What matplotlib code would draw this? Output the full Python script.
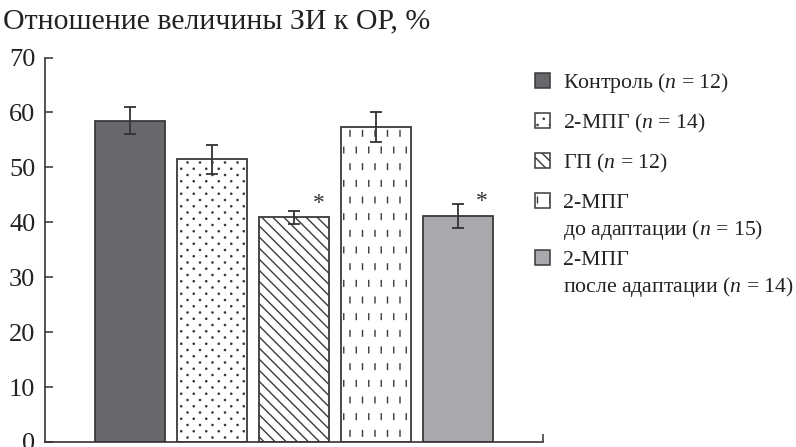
import warnings
import numpy as np
import matplotlib
matplotlib.use('Agg')
import matplotlib.pyplot as plt
import matplotlib.hatch as mhatch
from matplotlib.path import Path
from matplotlib.patches import Rectangle

warnings.filterwarnings('ignore')

# data
groups = ['Контроль', '2-МПГ', 'ГП', '2-МПГ до адаптации', '2-МПГ после адаптации']
n_sizes = [12, 14, 12, 15, 14]
means = [58.5, 51.5, 40.9, 57.4, 41.2]
errors = [2.4, 2.65, 1.2, 2.75, 2.2]
significant = [False, False, True, False, True]
yticks = [0, 10, 20, 30, 40, 50, 60, 70]
title = 'Отношение величины ЗИ к ОР, %'
legend_lines = [
    ['Контроль ($n$ = 12)'],
    ['2-МПГ ($n$ = 14)'],
    ['ГП ($n$ = 12)'],
    ['2-МПГ', 'до адаптации ($n$ = 15)'],
    ['2-МПГ', 'после адаптации ($n$ = 14)'],
]

faces = ['#67686c', 'white', 'white', 'white', '#a8a9ac']
hatches = [None, ':', '~', '!', None]
edge = '#3a3a3a'


class PrintHatch(mhatch.HatchPatternBase):
    """extra hatches: ':' staggered dots, '!' staggered dashes, '~' dense backslash"""
    def __init__(self, hatch, density):
        verts, codes = [], []
        if ':' in hatch:
            circ = Path.unit_circle()
            for r in range(17):
                off = 0.5 / 8 if r % 2 else 0.0
                for c in range(9 if r % 2 == 0 else 8):
                    verts.append(circ.vertices * 0.006 + [c / 8 + off, r / 16])
                    codes.append(circ.codes)
        if '!' in hatch:
            for r in range(7):
                off = 0.5 / 8 if r % 2 else 0.0
                for c in range(9 if r % 2 == 0 else 8):
                    x0, y0 = c / 8 + off, r / 6
                    verts.append(np.array([[x0, y0 - 0.028], [x0, y0 + 0.028]]))
                    codes.append(np.array([Path.MOVETO, Path.LINETO]))
        if '~' in hatch:
            for s in np.linspace(-0.5, 0.5, 19):
                verts.append(np.array([[s, 1 + s], [1 + s, s]]))
                codes.append(np.array([Path.MOVETO, Path.LINETO]))
        if verts:
            self._v = np.concatenate(verts)
            self._c = np.concatenate(codes)
        else:
            self._v = np.empty((0, 2))
            self._c = np.empty(0, dtype=Path.code_type)
        self.num_vertices = len(self._v)

    def set_vertices_and_codes(self, vertices, codes):
        vertices[:] = self._v
        codes[:] = self._c


mhatch._hatch_types.append(PrintHatch)

plt.rcParams['font.family'] = ['Liberation Serif', 'DejaVu Serif']
plt.rcParams['mathtext.fontset'] = 'custom'
plt.rcParams['mathtext.rm'] = 'Liberation Serif'
plt.rcParams['mathtext.it'] = 'Liberation Serif:italic'
plt.rcParams['hatch.linewidth'] = 1.0

W, H = 796, 447
fig = plt.figure(figsize=(W / 100, H / 100), dpi=100)
ax = fig.add_axes([45 / W, 5 / H, 498 / W, 384.5 / H])

x = np.arange(len(means))
bars = ax.bar(x, means, width=0.856, color=faces, edgecolor=edge, linewidth=1.3)
for b, h in zip(bars, hatches):
    if h:
        b.set_hatch(h)
ax.errorbar(x, means, yerr=errors, fmt='none', ecolor='#333333',
            elinewidth=1.3, capsize=4.4, capthick=1.3)
for xi, m, sig in zip(x, means, significant):
    if sig:
        ax.text(xi + 0.3, m + 1.6, '*', ha='center', va='baseline',
                fontsize=17, color='#333333')

ax.set_xlim(-1.043, 5.045)
ax.set_ylim(0, 70)
ax.set_yticks(yticks)
ax.set_xticks([5.045])
ax.set_xticklabels([''])
for s in ['top', 'right']:
    ax.spines[s].set_visible(False)
for s in ['left', 'bottom']:
    ax.spines[s].set_color('#333333')
    ax.spines[s].set_linewidth(1.2)
ax.tick_params(axis='both', direction='in', length=6, width=1.1,
               color='#333333', labelsize=19, pad=7, labelcolor='#222222')

fig.text(3 / W, 1 - 28 / H, title, fontsize=21.5, color='#222222', va='baseline')

# legend, laid out by hand in pixel units from the top
baselines = [[88], [128], [168], [208, 235], [265, 292]]
for lines, ys, fc, h in zip(legend_lines, baselines, faces, hatches):
    yc = ys[0] - 7.5
    sq = Rectangle((535 / 100, (H - yc - 7.5) / 100), 0.15, 0.15,
                   transform=fig.dpi_scale_trans, facecolor=fc,
                   edgecolor=edge, linewidth=1.1, hatch=h)
    fig.add_artist(sq)
    for txt, yb in zip(lines, ys):
        fig.text(563 / W, 1 - yb / H, txt, fontsize=15.7, color='#222222',
                 va='baseline')

fig.savefig('out.png', dpi=100)
